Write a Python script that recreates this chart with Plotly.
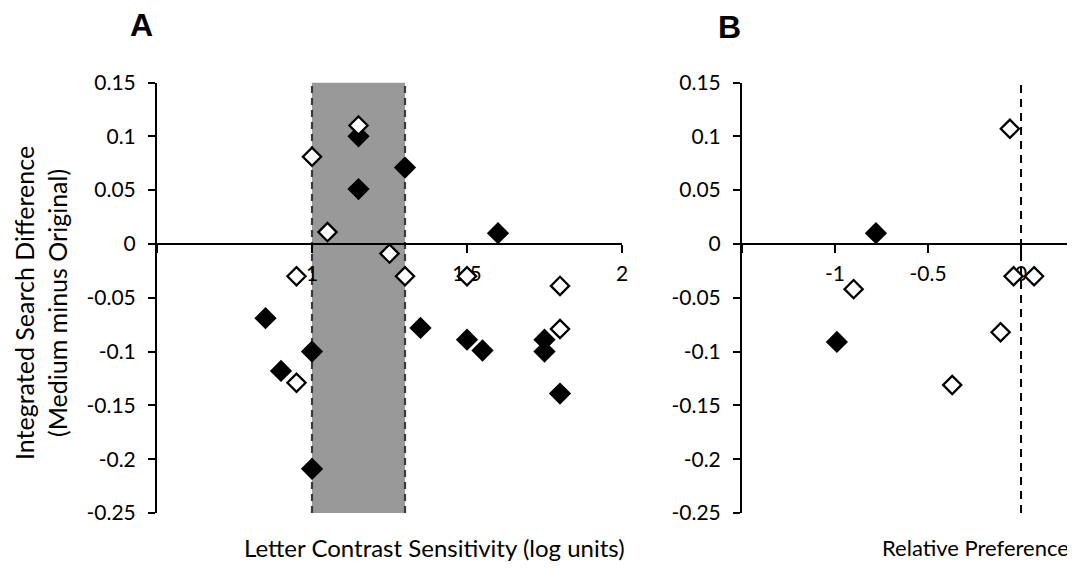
import plotly.graph_objects as go

# ---------------- data ----------------
# Panel A: Letter Contrast Sensitivity (log units) vs Integrated Search Difference
a_open_x = [1.00, 1.15, 1.05, 1.25, 0.95, 1.30, 1.50, 1.80, 1.80, 0.95]
a_open_y = [0.081, 0.110, 0.011, -0.009, -0.030, -0.030, -0.030, -0.039, -0.079, -0.129]
a_filled_x = [1.15, 1.15, 1.30, 1.60, 0.85, 1.00, 0.90, 1.00, 1.35, 1.50, 1.55, 1.75, 1.75, 1.80]
a_filled_y = [0.100, 0.051, 0.071, 0.010, -0.069, -0.100, -0.118, -0.209, -0.078, -0.089, -0.099, -0.089, -0.100, -0.139]

# Panel B: Relative Preference vs Integrated Search Difference
b_open_x = [-0.06, -0.90, -0.04, 0.07, -0.11, -0.37]
b_open_y = [0.107, -0.042, -0.030, -0.030, -0.082, -0.131]
b_filled_x = [-0.78, -0.99, 0.33]
b_filled_y = [0.010, -0.091, -0.140]

# shaded band in panel A
band_x = [1.0, 1.3]

y_ticks = [0.15, 0.10, 0.05, 0.0, -0.05, -0.10, -0.15, -0.20, -0.25]
y_ticktext = ["0.15", "0.1", "0.05", "0", "-0.05", "-0.1", "-0.15", "-0.2", "-0.25"]
a_xticks = [0.5, 1.0, 1.5, 2.0]
a_xticktext = ["", "1", "1.5", "2"]
b_xticks = [-1.5, -1.0, -0.5, 0.0]
b_xticktext = ["", "-1", "-0.5", "0"]

y_range = [-0.25, 0.15]
a_xrange = [0.5, 2.0]
b_xrange = [-1.5, 0.333]

y_title_lines = ["Integrated Search Difference", "(Medium minus Original)"]

# ---------------- layout geometry ----------------
W, H = 1075, 569
OFF = 8  # page offset of the figure inside the browser page
FONT = "Lato, 'Gill Sans', sans-serif"


def px(p):
    return (p - OFF) / W


def py(p):
    return (H - (p - OFF)) / H


ydom = [py(513), py(82.5)]
xdomA = [px(157), px(622)]
xdomB = [px(742), 1.0]
zero_pos = ydom[0] + (0 - y_range[0]) / (y_range[1] - y_range[0]) * (ydom[1] - ydom[0])

fig = go.Figure()


def filled(x, y, xa, ya):
    return go.Scatter(x=x, y=y, xaxis=xa, yaxis=ya, mode="markers", cliponaxis=False,
                      marker=dict(symbol="diamond", size=15.5, color="black",
                                  line=dict(color="black", width=1.5)),
                      showlegend=False, hoverinfo="x+y")


def hollow(x, y, xa, ya):
    return go.Scatter(x=x, y=y, xaxis=xa, yaxis=ya, mode="markers", cliponaxis=False,
                      marker=dict(symbol="diamond", size=14, color="white",
                                  line=dict(color="black", width=2.3)),
                      showlegend=False, hoverinfo="x+y")


fig.add_trace(filled(a_filled_x, a_filled_y, "x", "y"))
fig.add_trace(hollow(a_open_x, a_open_y, "x", "y"))
fig.add_trace(filled(b_filled_x, b_filled_y, "x2", "y2"))
fig.add_trace(hollow(b_open_x, b_open_y, "x2", "y2"))

# shaded band and dashed edges
fig.add_shape(type="rect", xref="x", yref="y", x0=band_x[0], x1=band_x[1],
              y0=y_range[0], y1=y_range[1], fillcolor="#999999",
              line=dict(width=0), layer="below")
for bx in band_x:
    fig.add_shape(type="line", xref="x", yref="y", x0=bx, x1=bx,
                  y0=y_range[0], y1=y_range[1],
                  line=dict(color="#3a3a3a", width=2.2, dash="7px,5px"), layer="below")
# dashed line at zero preference in panel B
fig.add_shape(type="line", xref="x2", yref="y2", x0=0, x1=0,
              y0=y_range[0], y1=y_range[1],
              line=dict(color="black", width=2, dash="8px,6px"), layer="below")

tickfont = dict(family=FONT, size=21, color="black")
axis_common = dict(showgrid=False, zeroline=False, showline=True, linecolor="black",
                   linewidth=2, ticks="outside", tickcolor="black", tickwidth=2,
                   tickfont=tickfont)

fig.update_layout(
    width=W, height=H,
    margin=dict(l=0, r=0, t=0, b=0, autoexpand=False),
    paper_bgcolor="white", plot_bgcolor="white",
    xaxis=dict(domain=xdomA, range=a_xrange, anchor="free", position=zero_pos,
               tickvals=a_xticks, ticktext=a_xticktext, ticklen=8,
               ticklabelstandoff=3, layer="below traces", **axis_common),
    yaxis=dict(domain=ydom, range=y_range, anchor="x", tickvals=y_ticks,
               ticktext=y_ticktext, ticklen=7, ticklabelstandoff=8,
               layer="below traces", **axis_common),
    xaxis2=dict(domain=xdomB, range=b_xrange, anchor="free", position=zero_pos,
                tickvals=b_xticks, ticktext=b_xticktext, ticklen=8,
                ticklabelstandoff=3, layer="below traces", **axis_common),
    yaxis2=dict(domain=ydom, range=y_range, anchor="x2", tickvals=y_ticks,
                ticktext=y_ticktext, ticklen=7, ticklabelstandoff=8,
                layer="below traces", **axis_common),
)

ytitle_font = dict(family=FONT, size=25, color="black")
for line_text, cx in zip(y_title_lines, [24, 57]):
    fig.add_annotation(xref="paper", yref="paper", x=px(cx), y=py(303),
                       text=line_text, textangle=-90, showarrow=False,
                       font=ytitle_font, xanchor="center", yanchor="middle")
fig.add_annotation(xref="paper", yref="paper", x=px(242), y=py(547),
                   text="Letter Contrast Sensitivity (log units)", showarrow=False,
                   font=dict(family=FONT, size=24, color="black"),
                   xanchor="left", yanchor="middle")
fig.add_annotation(xref="paper", yref="paper", x=px(880), y=py(547),
                   text="Relative Preference", showarrow=False,
                   font=dict(family=FONT, size=22, color="black"),
                   xanchor="left", yanchor="middle")

title_font = dict(family="Liberation Sans, Arial, sans-serif", size=32, color="black")
fig.add_annotation(xref="paper", yref="paper", x=px(141), y=py(25),
                   text="<b>A</b>", showarrow=False, font=title_font,
                   xanchor="center", yanchor="middle")
fig.add_annotation(xref="paper", yref="paper", x=px(729), y=py(27),
                   text="<b>B</b>", showarrow=False, font=title_font,
                   xanchor="center", yanchor="middle")

fig.write_html("out.html")
